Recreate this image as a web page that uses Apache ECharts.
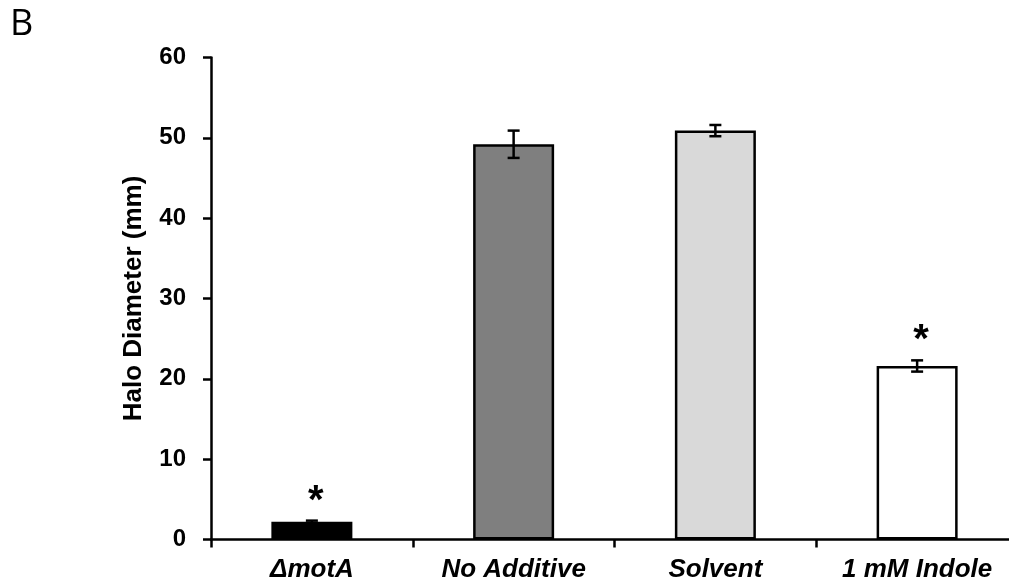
<!DOCTYPE html>
<html>
<head>
<meta charset="utf-8">
<style>
  html, body { margin: 0; padding: 0; background: #fff; }
  #chart { width: 1009px; height: 586px; }
</style>
<script src="https://cdn.jsdelivr.net/npm/echarts@6/dist/echarts.min.js"></script>
</head>
<body>
<div id="chart"></div>
<script>
// Halo diameter per condition, with standard error
const categories = ['ΔmotA', 'No Additive', 'Solvent', '1 mM Indole'];
const halo = [2.2, 49.2, 50.9, 21.6];
const haloErr = [0.15, 1.7, 0.7, 0.7];
const significant = [true, false, false, true];
const barColors = ['#000000', '#7f7f7f', '#d9d9d9', '#ffffff'];

const FONT = '"Liberation Sans", Arial, sans-serif';
const chart = echarts.init(document.getElementById('chart'), null, { renderer: 'canvas' });

const errorData = halo.map((v, i) => [i, v - haloErr[i], v + haloErr[i], significant[i] ? 1 : 0]);

chart.setOption({
  animation: false,
  backgroundColor: '#ffffff',
  textStyle: { fontFamily: FONT },
  graphic: [{
    type: 'text', left: 10, top: 7,
    style: { text: 'B', font: '36px "Open Sans", "Liberation Sans", sans-serif', fill: '#000' }
  }],
  // the last category runs slightly past the right edge of the canvas
  grid: { left: 211, top: 57.5, width: 807, height: 482, outerBoundsMode: 'none', containLabel: false },
  xAxis: {
    type: 'category',
    data: categories,
    axisLine: { lineStyle: { color: '#000', width: 2.5 } },
    axisTick: { show: true, length: 8, lineStyle: { color: '#000', width: 2.5 } },
    axisLabel: {
      color: '#000', fontSize: 26, fontWeight: 'bold', fontStyle: 'italic',
      margin: 17, fontFamily: FONT
    }
  },
  yAxis: {
    type: 'value',
    min: 0, max: 60, interval: 10,
    name: 'Halo Diameter (mm)',
    nameLocation: 'middle',
    nameGap: 64,
    nameTextStyle: { color: '#000', fontSize: 26, fontWeight: 'bold', fontFamily: FONT },
    axisLine: { show: true, lineStyle: { color: '#000', width: 2.5 } },
    axisTick: { show: true, length: 8, lineStyle: { color: '#000', width: 2.5 } },
    axisLabel: { color: '#000', fontSize: 24, fontWeight: 'bold', margin: 25, fontFamily: FONT },
    splitLine: { show: false }
  },
  series: [{
    type: 'bar',
    barWidth: 81,
    data: halo.map((v, i) => ({
      value: v,
      itemStyle: { color: barColors[i], borderColor: '#000', borderWidth: 2.5 }
    })),
    z: 2
  }, {
    type: 'custom',
    data: errorData,
    z: 3,
    renderItem: function (params, api) {
      const x = api.value(0);
      const lo = api.coord([x, api.value(1)]);
      const hi = api.coord([x, api.value(2)]);
      const cap = 6;
      const style = { stroke: '#000', lineWidth: 2.5 };
      const children = [
        { type: 'line', shape: { x1: lo[0], y1: lo[1], x2: hi[0], y2: hi[1] }, style },
        { type: 'line', shape: { x1: lo[0] - cap, y1: lo[1], x2: lo[0] + cap, y2: lo[1] }, style },
        { type: 'line', shape: { x1: hi[0] - cap, y1: hi[1], x2: hi[0] + cap, y2: hi[1] }, style }
      ];
      if (api.value(3)) {
        // significance marker above the error bar
        children.push({
          type: 'text',
          style: {
            text: '*', x: hi[0] + 4, y: hi[1] + 1,
            textAlign: 'center', textVerticalAlign: 'bottom',
            font: 'bold 40px ' + FONT, fill: '#000'
          }
        });
      }
      return { type: 'group', children };
    }
  }]
});
</script>
</body>
</html>
